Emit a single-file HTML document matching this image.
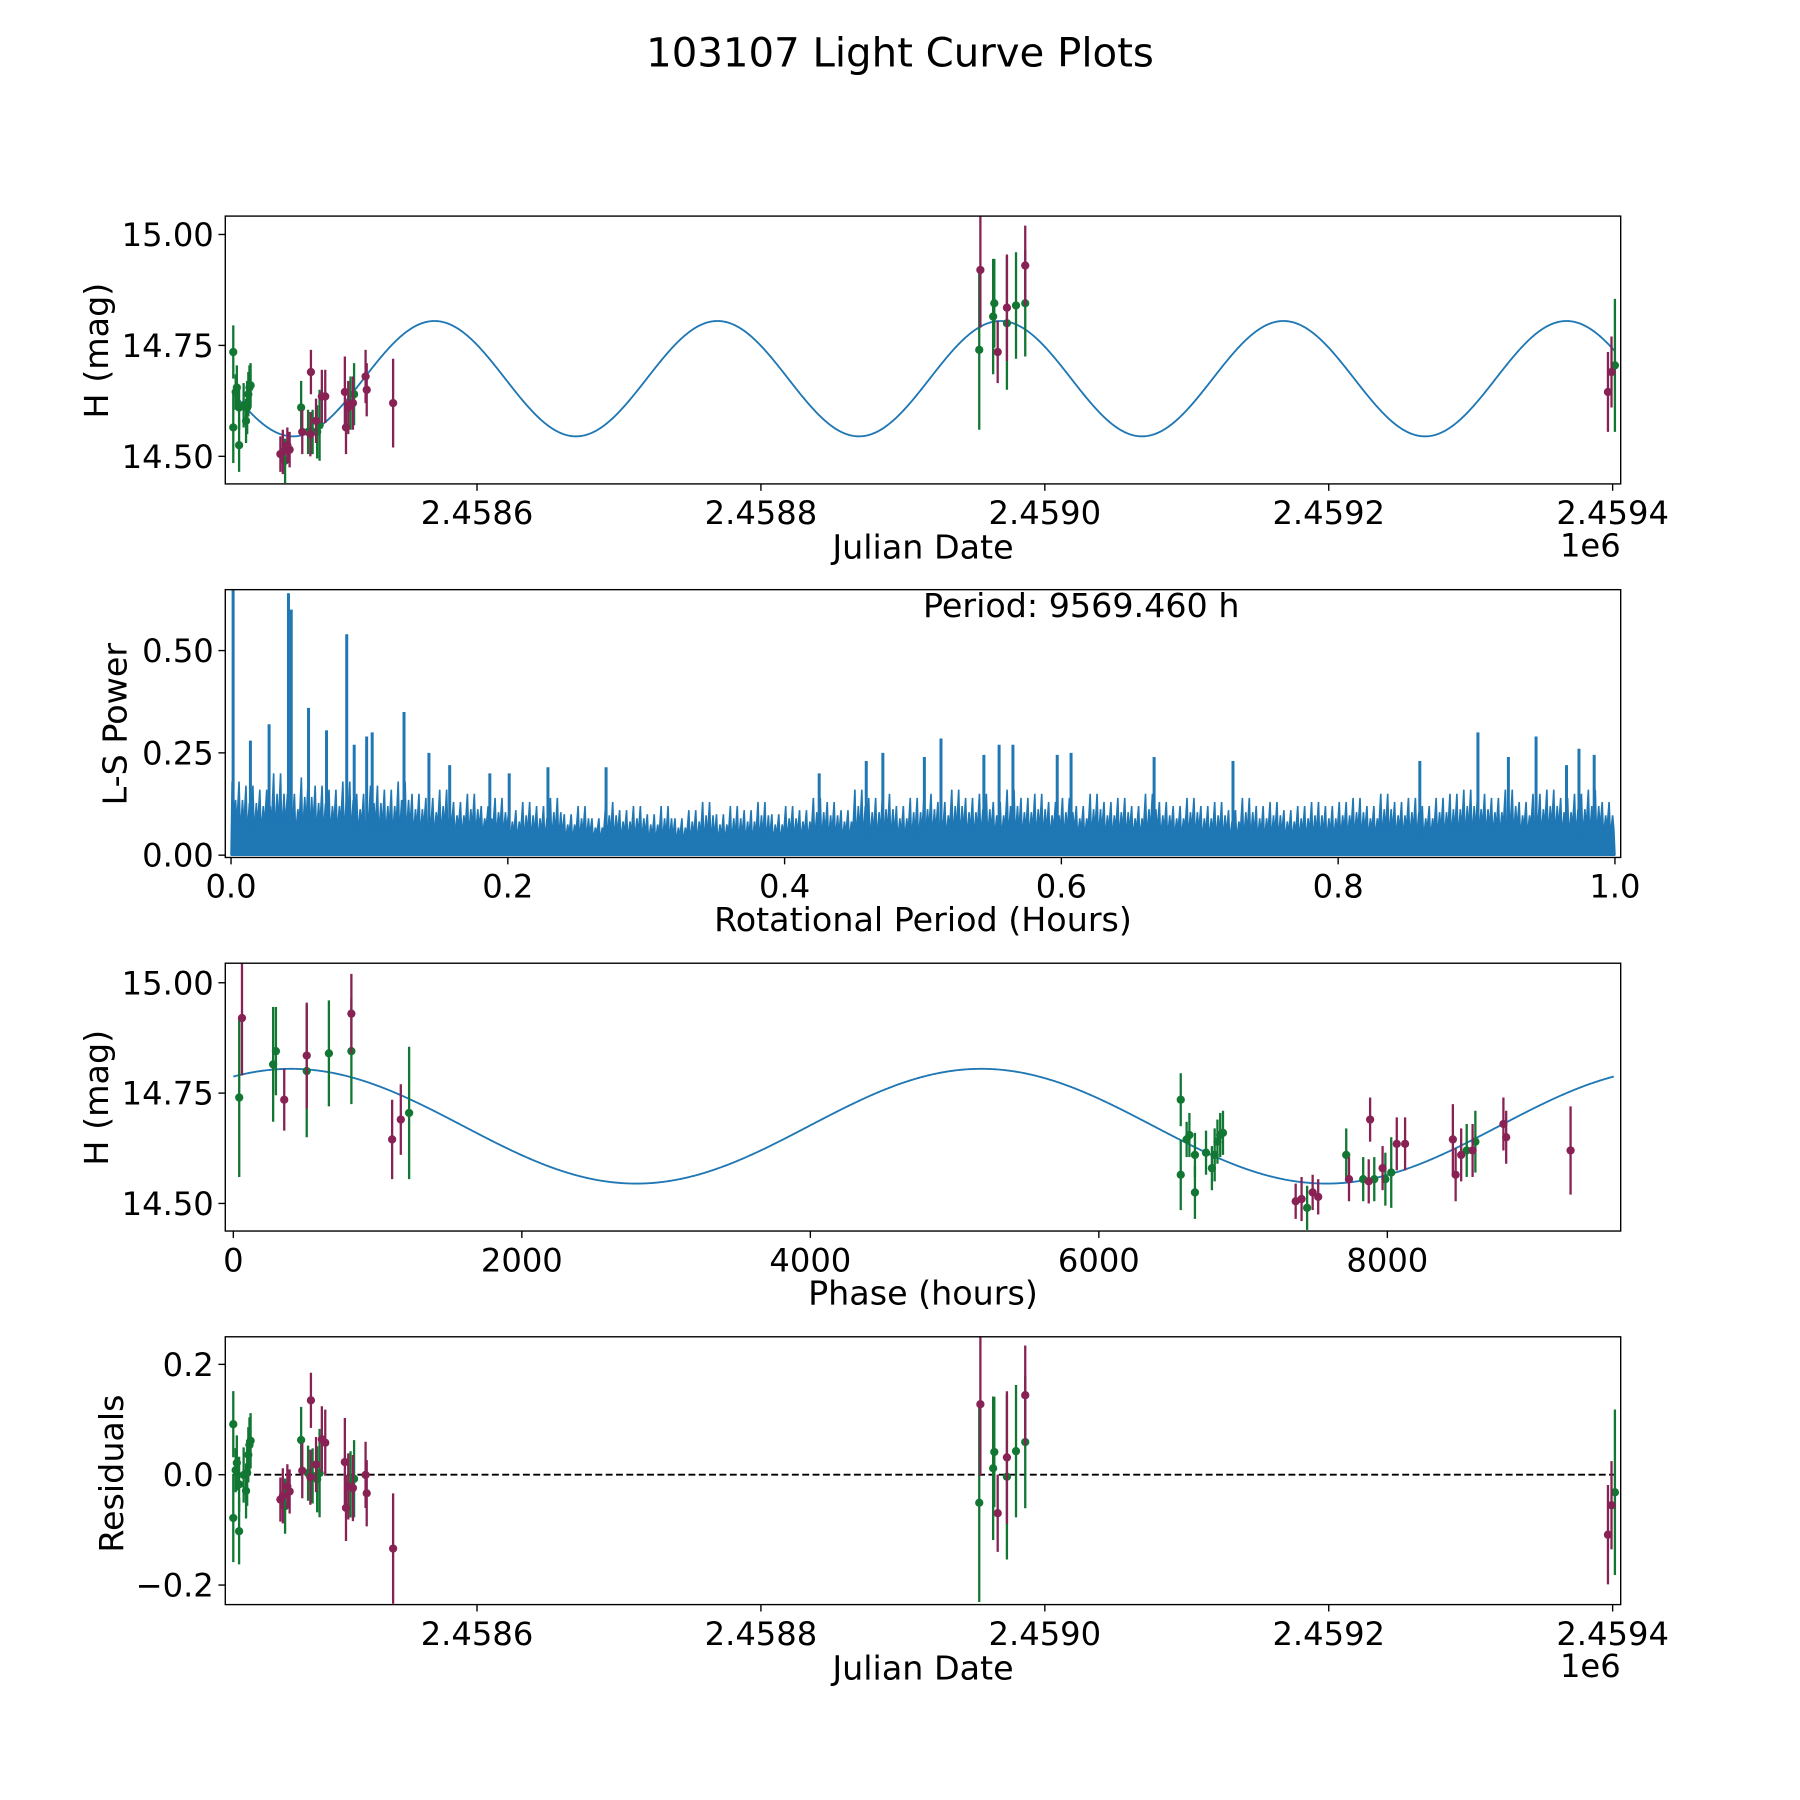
<!DOCTYPE html>
<html><head><meta charset="utf-8"><style>
html,body{margin:0;padding:0;background:#fff}
svg{display:block;font-family:"DejaVu Sans","Liberation Sans",sans-serif}
</style></head><body>
<svg id="fig" width="1800" height="1800" viewBox="0 0 1566 1566" xmlns="http://www.w3.org/2000/svg">
<rect width="1566" height="1566" fill="#fff"/>
<text x="783" y="58" font-size="35" text-anchor="middle">103107 Light Curve Plots</text>
<g id="p1"></g>
<g id="p2"></g>
<g id="p3"></g>
<g id="p4"></g>
</svg>
<script>
// ---- data (JD offsets from 2458000) ----
const greenJd  = [428.3,428.3,430.0,430.8,432.4,432.4,435.6,437.3,438.1,438.9,439.7,440.5,464.8,476.1,481.0,484.2,487.4,489.1,510.9,513.4,953.8,963.6,964.4,973.3,979.7,986.2,1401.6];
const greenMag = [14.565,14.735,14.645,14.655,14.525,14.61,14.615,14.58,14.61,14.64,14.655,14.66,14.49,14.61,14.555,14.555,14.555,14.57,14.62,14.64,14.74,14.815,14.845,14.80,14.84,14.845,14.705];
const greenErr = [0.08,0.06,0.04,0.05,0.06,0.05,0.05,0.05,0.06,0.05,0.05,0.05,0.05,0.06,0.05,0.05,0.06,0.08,0.06,0.07,0.18,0.13,0.10,0.15,0.12,0.12,0.15];
const wineJd  = [461.5,463.2,466.4,468.0,476.9,482.6,483.0,486.6,490.7,493.1,506.9,507.7,509.3,512.6,521.5,522.3,540.9,954.6,966.8,973.3,986.2,1396.7,1399.2];
const wineMag = [14.505,14.51,14.525,14.515,14.555,14.55,14.69,14.58,14.635,14.635,14.645,14.565,14.61,14.62,14.68,14.65,14.62,14.92,14.735,14.835,14.93,14.645,14.69];
const wineErr = [0.04,0.05,0.04,0.04,0.05,0.05,0.05,0.05,0.06,0.06,0.08,0.06,0.06,0.06,0.06,0.06,0.10,0.13,0.07,0.12,0.09,0.09,0.08];
const periodHours = 9569.46;
const fitMean = 14.675, fitAmp = 0.13, fitT0 = 952.1, fitPeakPhase = 400;
// periodogram
const lsEnvelope = [0.18,0.17,0.16,0.2,0.15,0.19,0.17,0.16,0.18,0.15,
 0.17,0.16,0.18,0.15,0.14,0.16,0.13,0.15,0.12,0.14,
 0.11,0.13,0.12,0.14,0.1,0.12,0.09,0.13,0.11,0.12,
 0.1,0.12,0.09,0.11,0.13,0.1,0.12,0.11,0.13,0.1,
 0.12,0.11,0.14,0.13,0.11,0.16,0.14,0.15,0.12,0.14,
 0.15,0.13,0.16,0.14,0.15,0.13,0.16,0.14,0.15,0.13,
 0.14,0.12,0.15,0.13,0.14,0.12,0.15,0.13,0.12,0.14,
 0.12,0.13,0.11,0.14,0.12,0.13,0.11,0.12,0.13,0.12,
 0.13,0.14,0.12,0.15,0.13,0.14,0.12,0.14,0.15,0.16,
 0.15,0.14,0.16,0.13,0.15,0.16,0.14,0.15,0.16,0.13];
const lsFloor = [0.05,0.045,0.035,0.03,0.035,0.04,0.04,0.035,0.04,0.045,0.04];
const spikePeriod = [0.0015,0.0415,0.0435,0.0836,0.125,0.056,0.0275,0.069,0.014,0.102,0.098,0.089,0.143,0.158,0.229,0.271,0.471,0.501,0.459,0.425,0.187,0.201,0.513,0.555,0.565,0.607,0.597,0.901,0.943,0.974,0.985,0.859,0.724,0.667,0.544,0.923,0.965];
const spikePower  = [0.65,0.64,0.6,0.54,0.35,0.36,0.32,0.305,0.28,0.30,0.29,0.27,0.25,0.22,0.215,0.215,0.25,0.24,0.23,0.2,0.2,0.2,0.285,0.27,0.27,0.25,0.245,0.30,0.29,0.26,0.245,0.23,0.23,0.24,0.245,0.24,0.22];
const jdTicks = [600,800,1000,1200,1400], jdTickLabels = ["2.4586","2.4588","2.4590","2.4592","2.4594"];
const magTicks = [14.5,14.75,15.0], magTickLabels = ["14.50","14.75","15.00"];
const lsXTicks = [0,0.2,0.4,0.6,0.8,1.0], lsXLabels = ["0.0","0.2","0.4","0.6","0.8","1.0"];
const lsYTicks = [0,0.25,0.5], lsYLabels = ["0.00","0.25","0.50"];
const phTicks = [0,2000,4000,6000,8000], phLabels = ["0","2000","4000","6000","8000"];
const resTicks = [-0.2,0,0.2], resLabels = ["\u22120.2","0.0","0.2"];

const NS = "http://www.w3.org/2000/svg";
const GREEN = "#117733", WINE = "#882255", BLUE = "#1f77b4";
const TF = 28, LF = 29;
function mk(parent, tag, attrs){ const e=document.createElementNS(NS,tag); for(const k in attrs) e.setAttribute(k,attrs[k]); parent.appendChild(e); return e; }
function lin(d0,d1,r0,r1){ return v => r0 + (v-d0)*(r1-r0)/(d1-d0); }
function model(jd){ const ph=(jd-fitT0)*24; return fitMean + fitAmp*Math.cos(2*Math.PI*(ph-fitPeakPhase)/(periodHours/2)); }
function phaseOf(jd){ let p=((jd-fitT0)*24)%periodHours; if(p<0)p+=periodHours; return p; }

function frame(g,L,T,R,B){ const r=mk(g,'rect',{x:L,y:T,width:R-L,height:B-T,fill:'none',stroke:'#000','stroke-width':1.2});   }
function xTicks(g,vals,labels,sx,B){ vals.forEach((v,i)=>{ const x=sx(v); mk(g,'line',{x1:x,y1:B,x2:x,y2:B+6,stroke:'#000','stroke-width':1.2});
  const t=mk(g,'text',{x:x,y:B+35,'font-size':TF,'text-anchor':'middle'}); t.textContent=labels[i];
    }); }
function yTicks(g,vals,labels,sy,L){ vals.forEach((v,i)=>{ const y=sy(v); mk(g,'line',{x1:L-6,y1:y,x2:L,y2:y,stroke:'#000','stroke-width':1.2});
  const t=mk(g,'text',{x:L-10,y:y+10,'font-size':TF,'text-anchor':'end'}); t.textContent=labels[i];
    }); }
function label(g,txt,x,y,rot,name){ const t=mk(g,'text',{x:x,y:y,'font-size':LF,'text-anchor':'middle'}); if(rot) t.setAttribute('transform',`rotate(-90 ${x} ${y})`); t.textContent=txt;
    }
function points(g,xs,ys,es,col,sx,sy){ xs.forEach((x,i)=>{ const px=sx(x);
  const l=mk(g,'line',{x1:px,y1:sy(ys[i]-es[i]),x2:px,y2:sy(ys[i]+es[i]),stroke:col,'stroke-width':2});
   
  const c=mk(g,'circle',{cx:px,cy:sy(ys[i]),r:3.6,fill:col});
    }); }

// Panel 1
(function(){ const g=document.getElementById('p1'); const L=196,T=188,R=1410,B=421;
 const sx=lin(600,1400,415,1403), sy=lin(14.5,15.0,397,204);
 const cp=mk(g,'clipPath',{id:'c1'}); mk(cp,'rect',{x:L,y:T,width:R-L,height:B-T});
 const inner=mk(g,'g',{'clip-path':'url(#c1)'});
 let d=''; for(let i=0;i<=1500;i++){ const j=greenJd[0]+(greenJd[greenJd.length-1]-greenJd[0])*i/1500; d+=(i?'L':'M')+sx(j).toFixed(2)+','+sy(model(j)).toFixed(2); }
 const p=mk(inner,'path',{d:d,fill:'none',stroke:BLUE,'stroke-width':1.6});  
 points(inner,greenJd,greenMag,greenErr,GREEN,sx,sy); points(inner,wineJd,wineMag,wineErr,WINE,sx,sy);
 frame(g,L,T,R,B); xTicks(g,jdTicks,jdTickLabels,sx,B); yTicks(g,magTicks,magTickLabels,sy,L);
 label(g,'Julian Date',803,486,false,'x-axis-title'); label(g,'H (mag)',94,305,true,'y-axis-title');
 const o=mk(g,'text',{x:1410,y:484,'font-size':TF,'text-anchor':'end'}); o.textContent='1e6';  
})();

// Panel 2
(function(){ const g=document.getElementById('p2'); const L=196,T=513,R=1410,B=746;
 const sx=lin(0,1,201,1405), sy=lin(0,0.5,744,566);
 const cp=mk(g,'clipPath',{id:'c2'}); mk(cp,'rect',{x:L,y:T,width:R-L,height:B-T});
 const inner=mk(g,'g',{'clip-path':'url(#c2)'});
 let d='M'+sx(0)+','+sy(0);
 for(let i=0;i<lsEnvelope.length;i++){ const x0=i*0.01; const fl=lsFloor[Math.floor(i/10)];
   for(let k=0;k<4;k++){ const x=x0+k*0.0025; const hi=lsEnvelope[i]*(k%2?0.75:1);
     d+='L'+sx(x+0.0008).toFixed(2)+','+sy(hi).toFixed(2)+'L'+sx(x+0.0017).toFixed(2)+','+sy(fl*(k%2?1.4:1)).toFixed(2); } }
 d+='L'+sx(1)+','+sy(0)+'Z';
 const a=mk(inner,'path',{d:d,fill:BLUE,stroke:BLUE,'stroke-width':1.4,'stroke-linejoin':'bevel'});  
 spikePeriod.forEach((p,i)=>{ const l=mk(inner,'line',{x1:sx(p),y1:sy(0),x2:sx(p),y2:sy(spikePower[i]),stroke:BLUE,'stroke-width':2.6});
     });
 frame(g,L,T,R,B); xTicks(g,lsXTicks,lsXLabels,sx,B); yTicks(g,lsYTicks,lsYLabels,sy,L);
 label(g,'Rotational Period (Hours)',803,810,false,'x-axis-title'); label(g,'L-S Power',110,630,true,'y-axis-title');
 const t=mk(g,'text',{x:803,y:537,'font-size':LF}); t.textContent='Period: '+periodHours.toFixed(3)+' h';  
})();

// Panel 3
(function(){ const g=document.getElementById('p3'); const L=196,T=838,R=1410,B=1071;
 const sx=lin(0,8000,203,1207), sy=lin(14.5,15.0,1047,855);
 const cp=mk(g,'clipPath',{id:'c3'}); mk(cp,'rect',{x:L,y:T,width:R-L,height:B-T});
 const inner=mk(g,'g',{'clip-path':'url(#c3)'});
 let d=''; for(let i=0;i<=1000;i++){ const ph=periodHours*i/1000; const v=fitMean+fitAmp*Math.cos(2*Math.PI*(ph-fitPeakPhase)/(periodHours/2)); d+=(i?'L':'M')+sx(ph).toFixed(2)+','+sy(v).toFixed(2); }
 const p=mk(inner,'path',{d:d,fill:'none',stroke:BLUE,'stroke-width':1.6});  
 points(inner,greenJd.map(phaseOf),greenMag,greenErr,GREEN,sx,sy); points(inner,wineJd.map(phaseOf),wineMag,wineErr,WINE,sx,sy);
 frame(g,L,T,R,B); xTicks(g,phTicks,phLabels,sx,B); yTicks(g,magTicks,magTickLabels,sy,L);
 label(g,'Phase (hours)',803,1135,false,'x-axis-title'); label(g,'H (mag)',94,955,true,'y-axis-title');
})();

// Panel 4
(function(){ const g=document.getElementById('p4'); const L=196,T=1163,R=1410,B=1396;
 const sx=lin(600,1400,415,1403), sy=lin(0,0.2,1283,1187);
 const cp=mk(g,'clipPath',{id:'c4'}); mk(cp,'rect',{x:L,y:T,width:R-L,height:B-T});
 const inner=mk(g,'g',{'clip-path':'url(#c4)'});
 const z=mk(inner,'line',{x1:sx(greenJd[0]),y1:sy(0),x2:sx(greenJd[greenJd.length-1]),y2:sy(0),stroke:'#000','stroke-width':1.6,'stroke-dasharray':'6,3'});
  
 points(inner,greenJd,greenMag.map((m,i)=>m-model(greenJd[i])),greenErr,GREEN,sx,sy);
 points(inner,wineJd,wineMag.map((m,i)=>m-model(wineJd[i])),wineErr,WINE,sx,sy);
 frame(g,L,T,R,B); xTicks(g,jdTicks,jdTickLabels,sx,B); yTicks(g,resTicks,resLabels,sy,L);
 label(g,'Julian Date',803,1461,false,'x-axis-title'); label(g,'Residuals',107,1282,true,'y-axis-title');
 const o=mk(g,'text',{x:1410,y:1459,'font-size':TF,'text-anchor':'end'}); o.textContent='1e6';  
})();
</script>
</body></html>
